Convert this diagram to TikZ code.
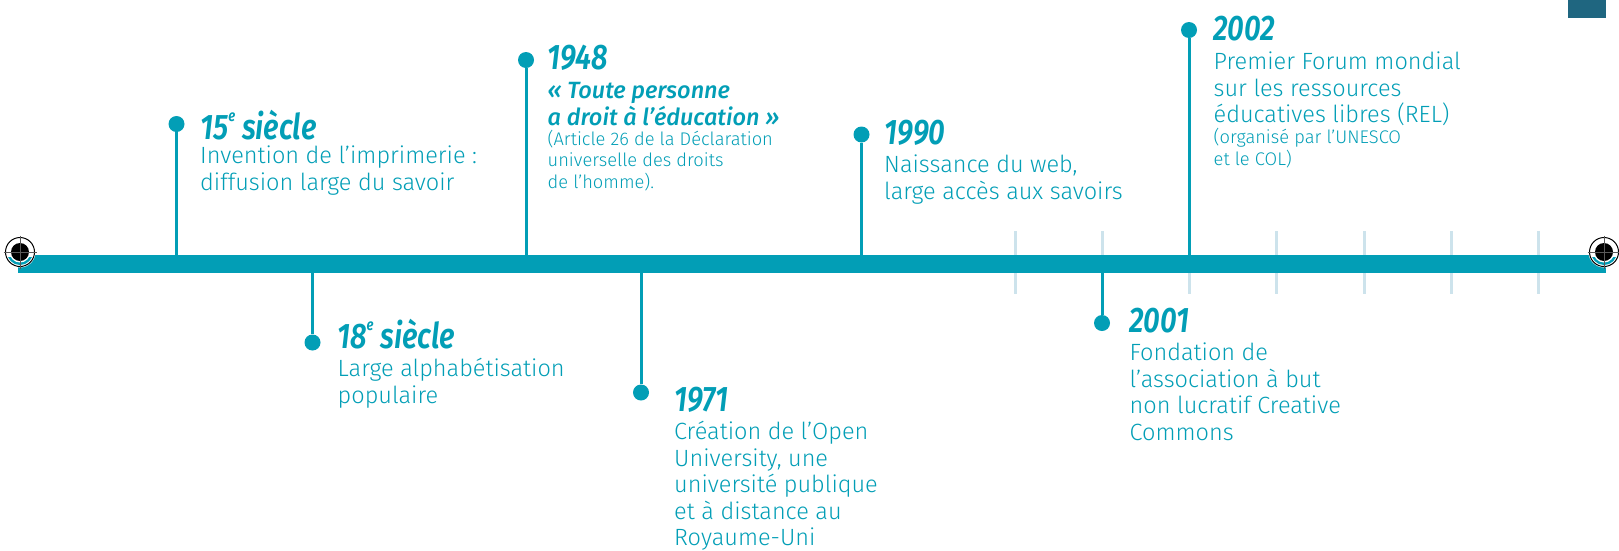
\documentclass[tikz,border=0pt]{standalone}
\usepackage{fontspec}
\setmainfont{Fira Sans}[UprightFont=* Light,ItalicFont=* Medium Italic,BoldFont=* Medium,BoldItalicFont=* Medium Italic]
\newfontfamily\headfont{Fira Sans}[UprightFont=* SemiBold Italic,FakeStretch=0.82]
\definecolor{teal}{HTML}{029EB6}
\definecolor{tickc}{HTML}{CDE3EC}
\definecolor{darkc}{HTML}{1F6680}
\tikzset{
 x=1pt,y=-1pt,
 dotn/.style={circle,fill=teal,draw=none,minimum size=16pt,inner sep=0},
 stem/.style={draw=teal,line width=3pt},
 tickl/.style={draw=tickc,line width=3pt},
 head/.style={anchor=base west,inner sep=0,text=teal,font=\headfont\fontsize{35.5}{35.5}\selectfont},
 body/.style={anchor=north west,inner sep=0,text=teal,align=left,font=\fontsize{23.5}{26.5}\selectfont},
 small/.style={anchor=north west,inner sep=0,text=teal,align=left,font=\fontsize{18.3}{21.6}\selectfont},
 reg/.style={draw=black,line width=1pt},
}
\newcommand{\regmark}[1]{%
 \fill[white] (#1) circle[radius=15.5];
 \begin{scope}
  \clip (#1) circle[radius=13];
  \fill[teal] (#1) ++(-20,5) rectangle ++(40,30);
  \fill[white] (#1) circle[radius=10.5];
 \end{scope}
 \draw[reg] (#1) circle[radius=14.5];
 \fill[black] (#1) circle[radius=9];
 \draw[gray!70!black,line width=1pt] (#1) ++(-16.5,0) -- ++(33,0) (#1) ++(0,-16.5) -- ++(0,33);
}
\begin{document}
\begin{tikzpicture}
\useasboundingbox (0,0) rectangle (1619,550);
\coordinate (t1a) at (1015.5,231); \coordinate (t1b) at (1015.5,294);
\coordinate (t2a) at (1102,231); \coordinate (t2b) at (1102,294);
\coordinate (t3a) at (1189,231); \coordinate (t3b) at (1189,294);
\coordinate (t4a) at (1276.5,231); \coordinate (t4b) at (1276.5,294);
\coordinate (t5a) at (1364,231); \coordinate (t5b) at (1364,294);
\coordinate (t6a) at (1451,231); \coordinate (t6b) at (1451,294);
\coordinate (t7a) at (1538,231); \coordinate (t7b) at (1538,294);
\foreach \i in {1,...,7} \draw[tickl] (t\i a) -- (t\i b);
\fill[darkc] (1568,0) rectangle (1606,18);
\node[fill=teal,minimum width=1588pt,minimum height=18pt,inner sep=0,anchor=north west] (bar) at (18,255) {};
% dots
\node[dotn] (d1) at (176.5,124) {};
\node[dotn] (d2) at (312.5,342.5) {};
\node[dotn] (d3) at (526,60) {};
\node[dotn] (d4) at (641,392.5) {};
\node[dotn] (d5) at (861.5,134.5) {};
\node[dotn] (d6) at (1102,323) {};
\node[dotn] (d7) at (1189,30) {};
\draw[stem] (d1) -- (d1 |- bar.north);
\draw[stem] (d2) -- (d2 |- bar.south);
\draw[stem] (d3) -- (d3 |- bar.north);
\draw[stem] (d4) -- (d4 |- bar.south);
\draw[stem] (d5) -- (d5 |- bar.north);
\draw[stem] (d6) -- (d6 |- bar.south);
\draw[stem] (d7) -- (d7 |- bar.north);
% labels
\node[head] (h1) at (200,139) {15\raisebox{.5em}{\fontsize{16}{16}\selectfont e} siècle};
\node[body] (b1) at (200,146) {Invention de l’imprimerie :\\diffusion large du savoir};
\node[head] (h2) at (337,348) {18\raisebox{.5em}{\fontsize{16}{16}\selectfont e} siècle};
\node[body] (b2) at (337.5,358) {Large alphabétisation\\populaire};
\node[head] (h3) at (547,69) {1948};
\node[body] (b3) at (547.5,82.5) {\itshape « Toute personne\\\itshape a droit à l’éducation »};
\node[small] (s3) at (547.5,129.5) {(Article 26 de la Déclaration\\universelle des droits\\de l’homme).};
\node[head] (h4) at (674,411) {1971};
\node[body] (b4) at (674,421) {Création de l’Open\\University, une\\université publique\\et à distance au\\Royaume-Uni};
\node[head] (h5) at (884,144) {1990};
\node[body] (b5) at (884,155) {Naissance du web,\\large accès aux savoirs};
\node[head] (h6) at (1129,332) {2001};
\node[body] (b6) at (1129.5,343) {Fondation de\\l’association à but\\non lucratif Creative\\Commons};
\node[head] (h7) at (1213,40) {2002};
\node[body] (b7) at (1213.5,52) {Premier Forum mondial\\sur les ressources\\éducatives libres (REL)};
\node[small] (s7) at (1213.5,128) {(organisé par l’UNESCO\\et le COL)};
\regmark{20,252}
\regmark{1604,252}
\end{tikzpicture}
\end{document}
